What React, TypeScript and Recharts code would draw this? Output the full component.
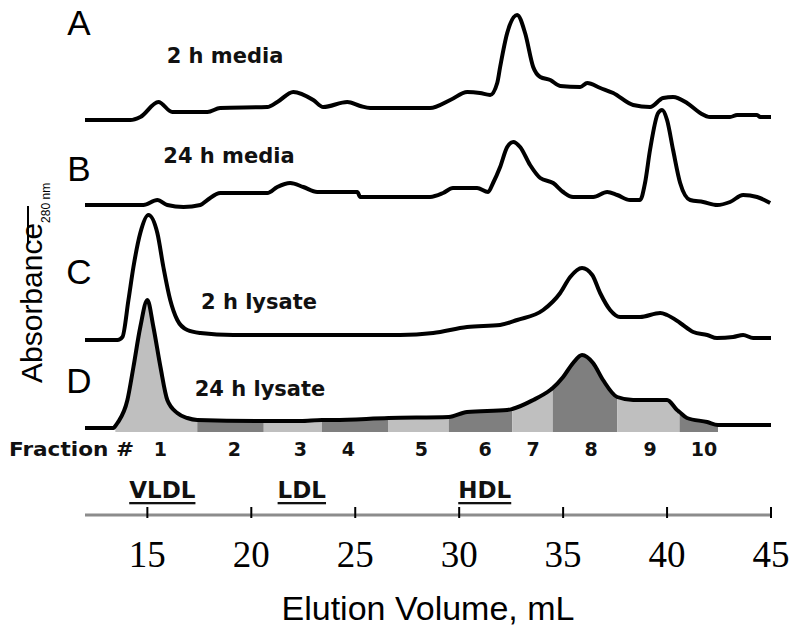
import { ComposedChart, Line, Area, Scatter, XAxis, YAxis, Label } from "recharts";

// elution volume (mL) / absorbance (arbitrary units above each trace's baseline)
const volA = [12, 14.18, 14.66, 15.53, 16.2, 17.89, 18.5, 20.77, 21.25, 22.02, 22.98, 23.46, 24.62, 25.24, 25.72, 27.16, 28.6, 29.57, 30.39, 31.0, 31.49, 31.83, 31.97, 32.31, 32.79, 33.17, 33.56, 33.9, 34.38, 34.86, 35.82, 36.16, 36.79, 37.41, 38.37, 39.18, 39.81, 40.29, 40.96, 41.59, 42.07, 43.03, 43.37, 44.33, 44.48, 45];
const absA = [0, 0, 3, 18, 8, 8, 12, 13, 18, 28, 20, 13, 18, 14, 12, 12, 12, 20, 28, 27, 25, 37, 53, 87, 105, 87, 53, 43, 40, 34, 33, 37, 32, 27, 15, 13, 22, 23, 17, 7, 3, 3, 5, 5, 3, 3];

const volB = [12, 14.81, 15.48, 15.96, 16.74, 17.55, 17.89, 18.51, 20.77, 21.25, 21.87, 22.5, 23.17, 25.1, 25.24, 28.6, 29.23, 29.7, 30.86, 31.39, 31.63, 31.97, 32.31, 32.6, 32.93, 33.41, 33.9, 34.52, 35.0, 35.48, 36.45, 37.12, 37.6, 38.22, 38.7, 38.94, 39.18, 39.57, 39.76, 40.0, 40.29, 40.63, 41.11, 41.74, 42.41, 43.03, 43.66, 44.33, 44.96];
const absB = [0, 0, 5, 0, -2, 0, 5, 12, 12, 18, 22, 18, 13, 13, 8, 8, 12, 17, 17, 13, 22, 38, 58, 63, 58, 40, 27, 22, 13, 8, 8, 13, 10, 5, 5, 22, 55, 92, 95, 85, 55, 22, 5, 3, 0, 3, 10, 8, 2];

const volC = [12, 13.56, 13.8, 14.09, 14.33, 14.66, 15.05, 15.48, 15.77, 16.1, 16.44, 16.92, 17.55, 19.13, 27.16, 28.75, 30.38, 31.97, 32.79, 34.04, 34.86, 35.34, 35.91, 36.4, 36.78, 37.26, 37.74, 38.7, 39.67, 40.0, 40.63, 41.26, 41.93, 42.4, 43.18, 43.66, 44.14, 45];
const absC = [0, 0, 3, 40, 73, 107, 125, 107, 73, 40, 20, 10, 7, 5, 5, 7, 13, 15, 20, 30, 47, 63, 72, 65, 47, 30, 23, 23, 27, 25, 17, 8, 5, 2, 3, 5, 2, 2];

const volD = [12, 13.37, 13.46, 13.56, 14.04, 14.33, 14.66, 15.0, 15.29, 15.63, 15.96, 16.44, 16.92, 17.4, 20.6, 22.36, 23.4, 23.95, 26.6, 29.5, 30.38, 32.31, 32.55, 33.56, 34.38, 34.5, 35.0, 35.48, 35.91, 36.44, 36.92, 37.6, 38.37, 40.0, 40.48, 40.6, 40.96, 41.93, 42.45, 45];
const absD = [0, 0, 2, 5, 28, 61, 101, 128, 101, 61, 28, 15, 10, 8, 7, 7, 8, 8, 10, 11, 16, 18, 19, 28, 38, 40, 51, 65, 73, 65, 48, 31, 28, 28, 18, 16, 10, 6, 3, 3];

// collected fractions (edges in mL) and their labels
const fractionEdges = [13.46, 17.4, 20.6, 23.4, 26.6, 29.5, 32.55, 34.5, 37.6, 40.6, 42.45];
const fractionNames = ["1", "2", "3", "4", "5", "6", "7", "8", "9", "10"];
const fractionLabelVol = [15.63, 19.19, 22.36, 24.67, 28.18, 31.25, 33.56, 36.35, 39.18, 41.78];

const lipoNames = ["VLDL", "LDL", "HDL"];
const lipoVol = [15.72, 22.43, 31.23];

const volumeTicks = [15, 20, 25, 30, 35, 40, 45];

// layout: vertical offset of each stacked trace
const OFFSET = { A: 395, B: 310, C: 175, D: 87 };
const FILL_FLOOR = 83;
const FRACTION_ROW = 66;
const LIPO_ROW = 25;
const LIGHT = "#bfbfbf";
const DARK = "#7f7f7f";

const toPoints = (vol: number[], abs: number[], off: number) =>
  vol.map((x, i) => ({ x, y: abs[i] + off }));

const traceA = toPoints(volA, absA, OFFSET.A);
const traceB = toPoints(volB, absB, OFFSET.B);
const traceC = toPoints(volC, absC, OFFSET.C);
const traceD = toPoints(volD, absD, OFFSET.D);

const fractionSegments = fractionNames.map((_, i) =>
  traceD.filter((p) => p.x >= fractionEdges[i] && p.x <= fractionEdges[i + 1])
);

const fractionLabels = fractionNames.map((name, i) => ({ x: fractionLabelVol[i], y: FRACTION_ROW, name }));
const lipoLabels = lipoNames.map((name, i) => ({ x: lipoVol[i], y: LIPO_ROW, name }));

function VolumeTick({ x, y, payload }: any) {
  return (
    <g>
      <line x1={x} x2={x} y1={y - 8} y2={y + 3} stroke="#000" strokeWidth={2} />
      <text x={x} y={y + 52} textAnchor="middle" fontFamily="Liberation Serif" fontSize={37} fill="#000">
        {payload.value}
      </text>
    </g>
  );
}

const FractionText = (props: any) => (
  <text x={props.cx} y={props.cy} textAnchor="middle" dominantBaseline="central"
    fontFamily="DejaVu Sans" fontWeight="bold" fontSize={19} fill="#111">
    {props.payload.name}
  </text>
);

const LipoText = (props: any) => (
  <text x={props.cx} y={props.cy} textAnchor="middle" dominantBaseline="central"
    fontFamily="DejaVu Sans" fontWeight="bold" fontSize={23} fill="#111"
    style={{ textDecoration: "underline" }}>
    {props.payload.name}
  </text>
);

const line = { type: "monotone" as const, dataKey: "y", stroke: "#000", strokeWidth: 4, dot: false, isAnimationActive: false };

export default function App() {
  return (
    <div style={{ position: "absolute", left: 0, top: 0, width: 800, height: 633, background: "#fff" }}>
      <ComposedChart width={800} height={633} margin={{ top: 10, right: 29, bottom: 13, left: 85 }}>
        <XAxis type="number" dataKey="x" domain={[12, 45]} ticks={volumeTicks} interval={0}
          height={105} tickSize={0} tickMargin={0} tickLine={false}
          axisLine={{ stroke: "#8c8c8c", strokeWidth: 3 }} tick={<VolumeTick />}>
          <Label value="Elution Volume, mL" position="insideBottom" offset={0}
            style={{ fontFamily: "Liberation Sans", fontSize: 34, fill: "#000" }} />
        </XAxis>
        <YAxis type="number" dataKey="y" domain={[0, 505]} hide />

        {fractionSegments.map((seg, i) => (
          <Area key={i} data={seg} dataKey="y" type="monotone" stroke="none"
            fill={i % 2 === 0 ? LIGHT : DARK} fillOpacity={1} baseValue={FILL_FLOOR}
            isAnimationActive={false} />
        ))}

        <Line data={traceA} {...line} />
        <Line data={traceB} {...line} />
        <Line data={traceC} {...line} />
        <Line data={traceD} {...line} />

        <Scatter data={fractionLabels} shape={FractionText} isAnimationActive={false} />
        <Scatter data={lipoLabels} shape={LipoText} isAnimationActive={false} />
      </ComposedChart>

      <svg width={800} height={633} style={{ position: "absolute", left: 0, top: 0, pointerEvents: "none" }}>
        <g fontFamily="Liberation Sans" fontSize={35} fill="#000">
          <text x={79} y={35} textAnchor="middle">A</text>
          <text x={79} y={181} textAnchor="middle">B</text>
          <text x={79} y={284} textAnchor="middle">C</text>
          <text x={79} y={393} textAnchor="middle">D</text>
        </g>
        <g fontFamily="DejaVu Sans" fontWeight="bold" fontSize={21} fill="#111" textAnchor="middle">
          <text x={225} y={63}>2 h media</text>
          <text x={229} y={163}>24 h media</text>
          <text x={259} y={309}>2 h lysate</text>
          <text x={260} y={396}>24 h lysate</text>
        </g>
        <text x={9} y={456} fontFamily="DejaVu Sans" fontWeight="bold" fontSize={19} fill="#111"
          textLength={125} lengthAdjust="spacingAndGlyphs">Fraction #</text>
        <text transform="translate(42,383) rotate(-90)" fontFamily="Liberation Sans" fontSize={30} fill="#000">
          Absorbance<tspan fontSize={12} dy={8}>280 nm</tspan>
        </text>
        <line x1={28} x2={28} y1={206} y2={244} stroke="#000" strokeWidth={2} />
      </svg>
    </div>
  );
}
